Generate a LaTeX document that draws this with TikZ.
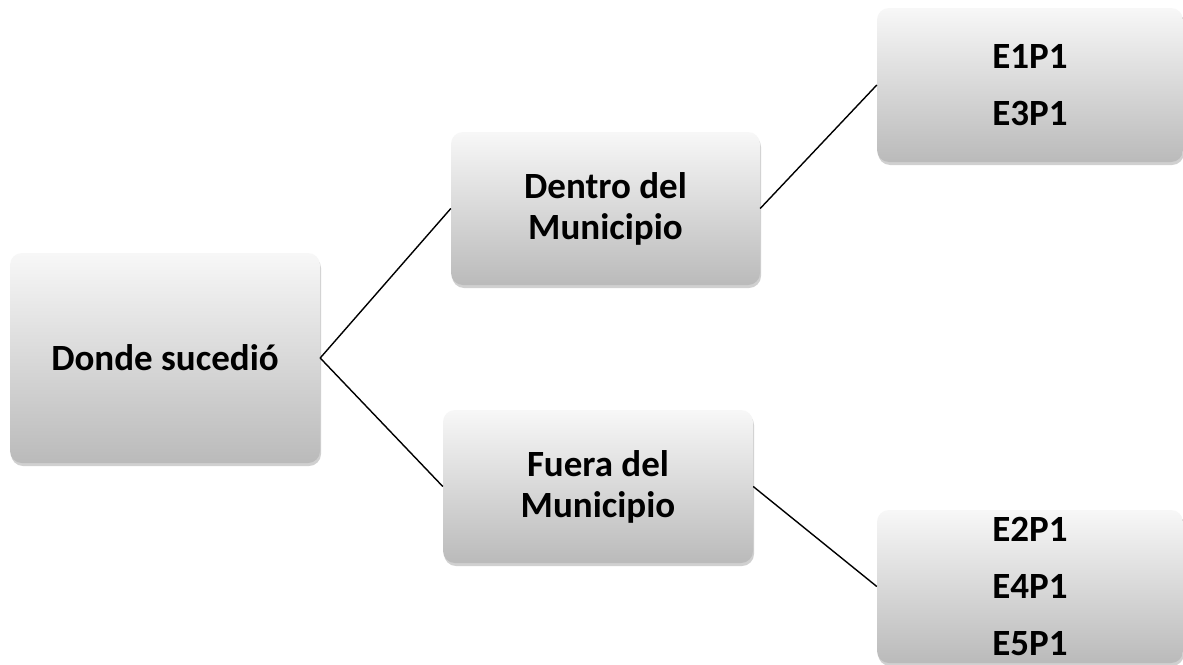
\documentclass[tikz,border=0pt]{standalone}
\usepackage{fontspec}
\setmainfont{Carlito}
\usetikzlibrary{shadows}
\tikzset{
  box/.style={rectangle, rounded corners=12pt, top color=white!97!black, bottom color=white!73!black,
    draw=none, align=center, font=\fontsize{37}{41}\selectfont\bfseries, inner sep=0pt,
    drop shadow={shadow xshift=1pt, shadow yshift=-3pt, opacity=0.3, fill=black!60}},
  leaf/.style={box, font=\fontsize{37}{57}\selectfont\bfseries},
  link/.style={draw=black, line width=1.4pt}
}
\begin{document}
\begin{tikzpicture}[x=1pt,y=-1pt]
\useasboundingbox[fill=white] (0,0) rectangle (1183,664);
\node[box, minimum width=310pt, minimum height=210pt] (donde) at (165,358) {Donde sucedió};
\node[box, minimum width=309pt, minimum height=153pt] (dentro) at (605.5,208.5) {Dentro del\\Municipio};
\node[box, minimum width=310pt, minimum height=153pt] (fuera) at (598,486.5) {Fuera del\\Municipio};
\node[leaf, minimum width=306pt, minimum height=154pt] (e13) at (1030,85) {E1P1\\E3P1};
\node[leaf, minimum width=306pt, minimum height=153pt] (e245) at (1030,586.5) {E2P1\\E4P1\\E5P1};
\draw[link] (donde.east) -- (dentro.west);
\draw[link] (donde.east) -- (fuera.west);
\draw[link] (dentro.east) -- (e13.west);
\draw[link] (fuera.east) -- (e245.west);
\end{tikzpicture}
\end{document}
